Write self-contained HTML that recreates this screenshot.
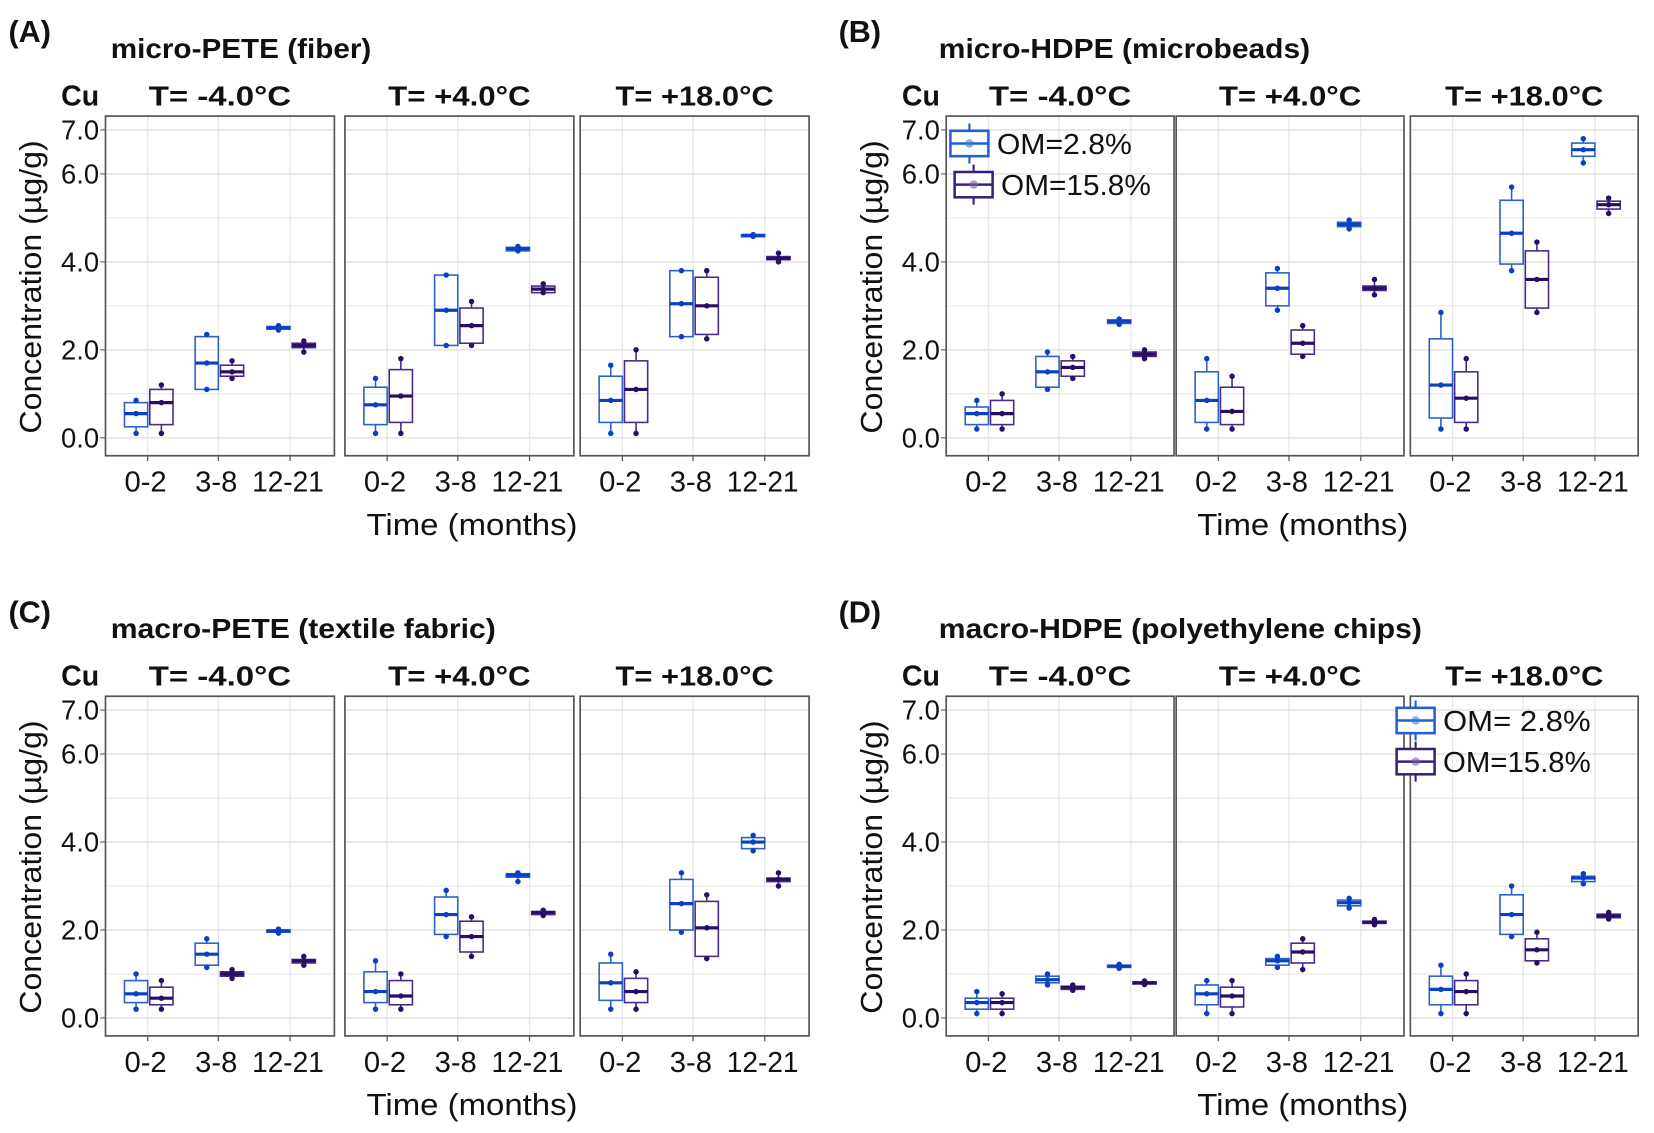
<!DOCTYPE html>
<html><head><meta charset="utf-8">
<style>
html,body{margin:0;padding:0;background:#fff;}
svg{display:block;}
text{font-family:"Liberation Sans",sans-serif;fill:#111;}
</style></head>
<body>
<svg id="s" width="1654" height="1133" viewBox="0 0 1568 1074" xmlns="http://www.w3.org/2000/svg"></svg>
<script>
const S=document.getElementById('s');
let h='';
const BL='#2a62c8', BLd='#0b3fc4', PU='#4a2a86', PUd='#2a0e66';
const D={
A:[
 [[[.25,.55,.8,.1,.85],[.3,.8,1.1,.1,1.2]],[[1.1,1.7,2.3,1.1,2.35],[1.4,1.5,1.65,1.35,1.75]],[[2.47,2.5,2.53,2.45,2.55],[2.05,2.1,2.15,1.95,2.2]]],
 [[[.3,.75,1.15,.1,1.35],[.35,.95,1.55,.1,1.8]],[[2.1,2.9,3.7,2.1,3.7],[2.15,2.55,2.95,2.1,3.1]],[[4.25,4.3,4.33,4.25,4.35],[3.3,3.38,3.45,3.3,3.5]]],
 [[[.35,.85,1.4,.1,1.65],[.35,1.1,1.75,.1,2.0]],[[2.3,3.05,3.8,2.3,3.8],[2.35,3.0,3.65,2.25,3.8]],[[4.58,4.6,4.62,4.58,4.62],[4.05,4.08,4.12,4.0,4.2]]]],
B:[
 [[[.3,.55,.7,.2,.85],[.3,.55,.85,.2,1.0]],[[1.15,1.5,1.85,1.1,1.95],[1.4,1.6,1.75,1.35,1.85]],[[2.6,2.65,2.68,2.58,2.7],[1.85,1.9,1.95,1.8,2.0]]],
 [[[.35,.85,1.5,.2,1.8],[.3,.6,1.15,.2,1.4]],[[3.0,3.4,3.75,2.9,3.85],[1.9,2.15,2.45,1.85,2.55]],[[4.8,4.85,4.9,4.75,4.95],[3.35,3.4,3.45,3.25,3.6]]],
 [[[.45,1.2,2.25,.2,2.85],[.35,.9,1.5,.2,1.8]],[[3.95,4.65,5.4,3.8,5.7],[2.95,3.6,4.25,2.85,4.45]],[[6.4,6.55,6.7,6.25,6.8],[5.2,5.3,5.38,5.1,5.45]]]],
C:[
 [[[.35,.55,.85,.2,1.0],[.3,.45,.7,.2,.85]],[[1.2,1.45,1.7,1.15,1.8],[.95,1.0,1.05,.9,1.1]],[[1.95,1.98,2.0,1.93,2.02],[1.25,1.3,1.33,1.2,1.4]]],
 [[[.35,.6,1.05,.2,1.3],[.3,.5,.85,.2,1.0]],[[1.9,2.35,2.75,1.85,2.9],[1.5,1.85,2.2,1.4,2.3]],[[3.2,3.25,3.28,3.1,3.3],[2.35,2.4,2.42,2.33,2.45]]],
 [[[.4,.8,1.25,.2,1.45],[.35,.6,.9,.2,1.05]],[[2.0,2.6,3.15,1.95,3.3],[1.4,2.05,2.65,1.35,2.8]],[[3.85,4.0,4.1,3.8,4.15],[3.1,3.15,3.18,3.0,3.3]]]],
D:[
 [[[.2,.35,.45,.1,.6],[.2,.35,.45,.1,.55]],[[.8,.87,.95,.75,1.0],[.65,.7,.72,.63,.75]],[[1.15,1.18,1.2,1.13,1.22],[.78,.8,.82,.76,.84]]],
 [[[.3,.55,.75,.1,.85],[.25,.5,.7,.1,.85]],[[1.2,1.3,1.35,1.15,1.4],[1.25,1.5,1.7,1.1,1.8]],[[2.55,2.62,2.68,2.5,2.72],[2.15,2.18,2.2,2.12,2.24]]],
 [[[.3,.65,.95,.1,1.2],[.3,.6,.85,.1,1.0]],[[1.9,2.35,2.8,1.85,3.0],[1.3,1.55,1.8,1.25,1.95]],[[3.1,3.18,3.22,3.05,3.28],[2.28,2.32,2.36,2.25,2.4]]]]
};
const G={
A:{lab:'(A)',title:'micro-PETE  (fiber)',tw:247,lx:8,tx:105,px:[100,327,550],pw:217,top:0},
B:{lab:'(B)',title:'micro-HDPE (microbeads)',tw:352,lx:795,tx:890,px:[897,1115,1337],pw:216,top:0},
C:{lab:'(C)',title:'macro-PETE  (textile fabric)',tw:365,lx:8,tx:105,px:[100,327,550],pw:217,top:550},
D:{lab:'(D)',title:'macro-HDPE (polyethylene chips)',tw:458,lx:795,tx:890,px:[897,1115,1337],pw:216,top:550}
};
const facets=['T= -4.0°C','T= +4.0°C','T= +18.0°C'];
const fw=[135,135,150];
const cats=['0-2','3-8','12-21'], cw=[40,40,68];
for(const k of ['A','B','C','D']){
 const g=G[k], o=g.top;
 const base=415+o, unit=41.7, top=110+o, bot=432+o;
 const Y=v=>base-v*unit;
 h+=`<text x="${g.lx}" y="${40+o}" font-size="29" font-weight="bold">${g.lab}</text>`;
 h+=`<text x="${g.tx}" y="${55+o}" font-size="26" font-weight="bold" textLength="${g.tw}" lengthAdjust="spacingAndGlyphs">${g.title}</text>`;
 h+=`<text x="${g.px[0]-42}" y="${100+o}" font-size="27" font-weight="bold">Cu</text>`;
 const ax=g.px[0]-67;
 h+=`<text transform="translate(${ax+6},${272+o}) rotate(-90)" text-anchor="middle" font-size="29" textLength="278" lengthAdjust="spacingAndGlyphs">Concentration  (µg/g)</text>`;
 for(const [v,l] of [[0,'0.0'],[2,'2.0'],[4,'4.0'],[6,'6.0'],[7,'7.0']]){
  h+=`<text x="${g.px[0]-6}" y="${Y(v)+9}" text-anchor="end" font-size="26">${l}</text>`;
 }
 for(let p=0;p<3;p++){
  const x0=g.px[p], w=g.pw;
  h+=`<text x="${x0+w/2}" y="${100+o}" text-anchor="middle" font-size="26" font-weight="bold" textLength="${fw[p]}" lengthAdjust="spacingAndGlyphs">${facets[p]}</text>`;
  for(let v=0;v<=7;v++) h+=`<line x1="${x0}" x2="${x0+w}" y1="${Y(v)}" y2="${Y(v)}" stroke="#e6e6e6" stroke-width="${v%2==0||v==7?1.6:1}"/>`;
  const tx=[x0+40,x0+107,x0+175];
  for(let c=0;c<3;c++){
   h+=`<line x1="${tx[c]}" x2="${tx[c]}" y1="${top}" y2="${bot}" stroke="#e6e6e6" stroke-width="1.2"/>`;
   h+=`<line x1="${tx[c]}" x2="${tx[c]}" y1="${bot}" y2="${bot+5}" stroke="#555" stroke-width="1.2"/>`;
   h+=`<text x="${tx[c]-2}" y="${bot+34}" text-anchor="middle" font-size="27" textLength="${cw[c]}" lengthAdjust="spacingAndGlyphs">${cats[c]}</text>`;
   for(let s=0;s<2;s++){
    const d=D[k][p][c][s], cx=tx[c]+(s?13:-11), bw=22;
    const col=s?PU:BL, dc=s?PUd:BLd;
    const [q1,m,q3,mn,mx]=d;
    h+=`<line x1="${cx}" x2="${cx}" y1="${Y(mx)}" y2="${Y(q3)}" stroke="${col}" stroke-width="1.5"/>`;
    h+=`<line x1="${cx}" x2="${cx}" y1="${Y(q1)}" y2="${Y(mn)}" stroke="${col}" stroke-width="1.5"/>`;
    h+=`<rect x="${cx-bw/2}" y="${Y(q3)}" width="${bw}" height="${Math.max(2,Y(q1)-Y(q3))}" fill="${(q3-q1)<0.12?col:'none'}" fill-opacity="0.6" stroke="${col}" stroke-width="1.5"/>`;
    h+=`<line x1="${cx-bw/2}" x2="${cx+bw/2}" y1="${Y(m)}" y2="${Y(m)}" stroke="${dc}" stroke-width="3"/>`;
    for(const v of [mn,m,mx]) h+=`<circle cx="${cx}" cy="${Y(v)}" r="2.6" fill="${dc}"/>`;
   }
  }
  for(const v of [0,2,4,6,7]) if(p==0) h+=`<line x1="${x0-5}" x2="${x0}" y1="${Y(v)}" y2="${Y(v)}" stroke="#555"/>`;
  h+=`<rect x="${x0}" y="${top}" width="${w}" height="${bot-top}" fill="none" stroke="#555" stroke-width="1.6"/>`;
 }
 h+=`<text x="${g.px[1]+g.pw/2+12}" y="${507+o}" text-anchor="middle" font-size="29" textLength="200" lengthAdjust="spacingAndGlyphs">Time (months)</text>`;
}
function leg(x,y,col,dc,txt,tl){
 let s=`<line x1="${x+18}" x2="${x+18}" y1="${y-19}" y2="${y+19}" stroke="${col}" stroke-width="2"/>`;
 s+=`<rect x="${x}" y="${y-12}" width="36" height="24" fill="#fff" stroke="${col}" stroke-width="2.4"/>`;
 s+=`<line x1="${x}" x2="${x+36}" y1="${y}" y2="${y}" stroke="${col}" stroke-width="2.4"/>`;
 s+=`<circle cx="${x+18}" cy="${y}" r="4" fill="${dc}" opacity="0.6"/>`;
 s+=`<text x="${x+44}" y="${y+10}" font-size="27" textLength="${tl}" lengthAdjust="spacingAndGlyphs">${txt}</text>`;
 return s;
}
h+=leg(901,136,'#1f5fd8','#3b7be0','OM=2.8%',128);
h+=leg(905,175,'#3a1f7a','#7a5aa8','OM=15.8%',142);
h+=leg(1324,683,'#1f5fd8','#3b7be0','OM=  2.8%',140);
h+=leg(1324,722,'#3a1f7a','#7a5aa8','OM=15.8%',140);
S.innerHTML=h;
</script>
</body></html>
